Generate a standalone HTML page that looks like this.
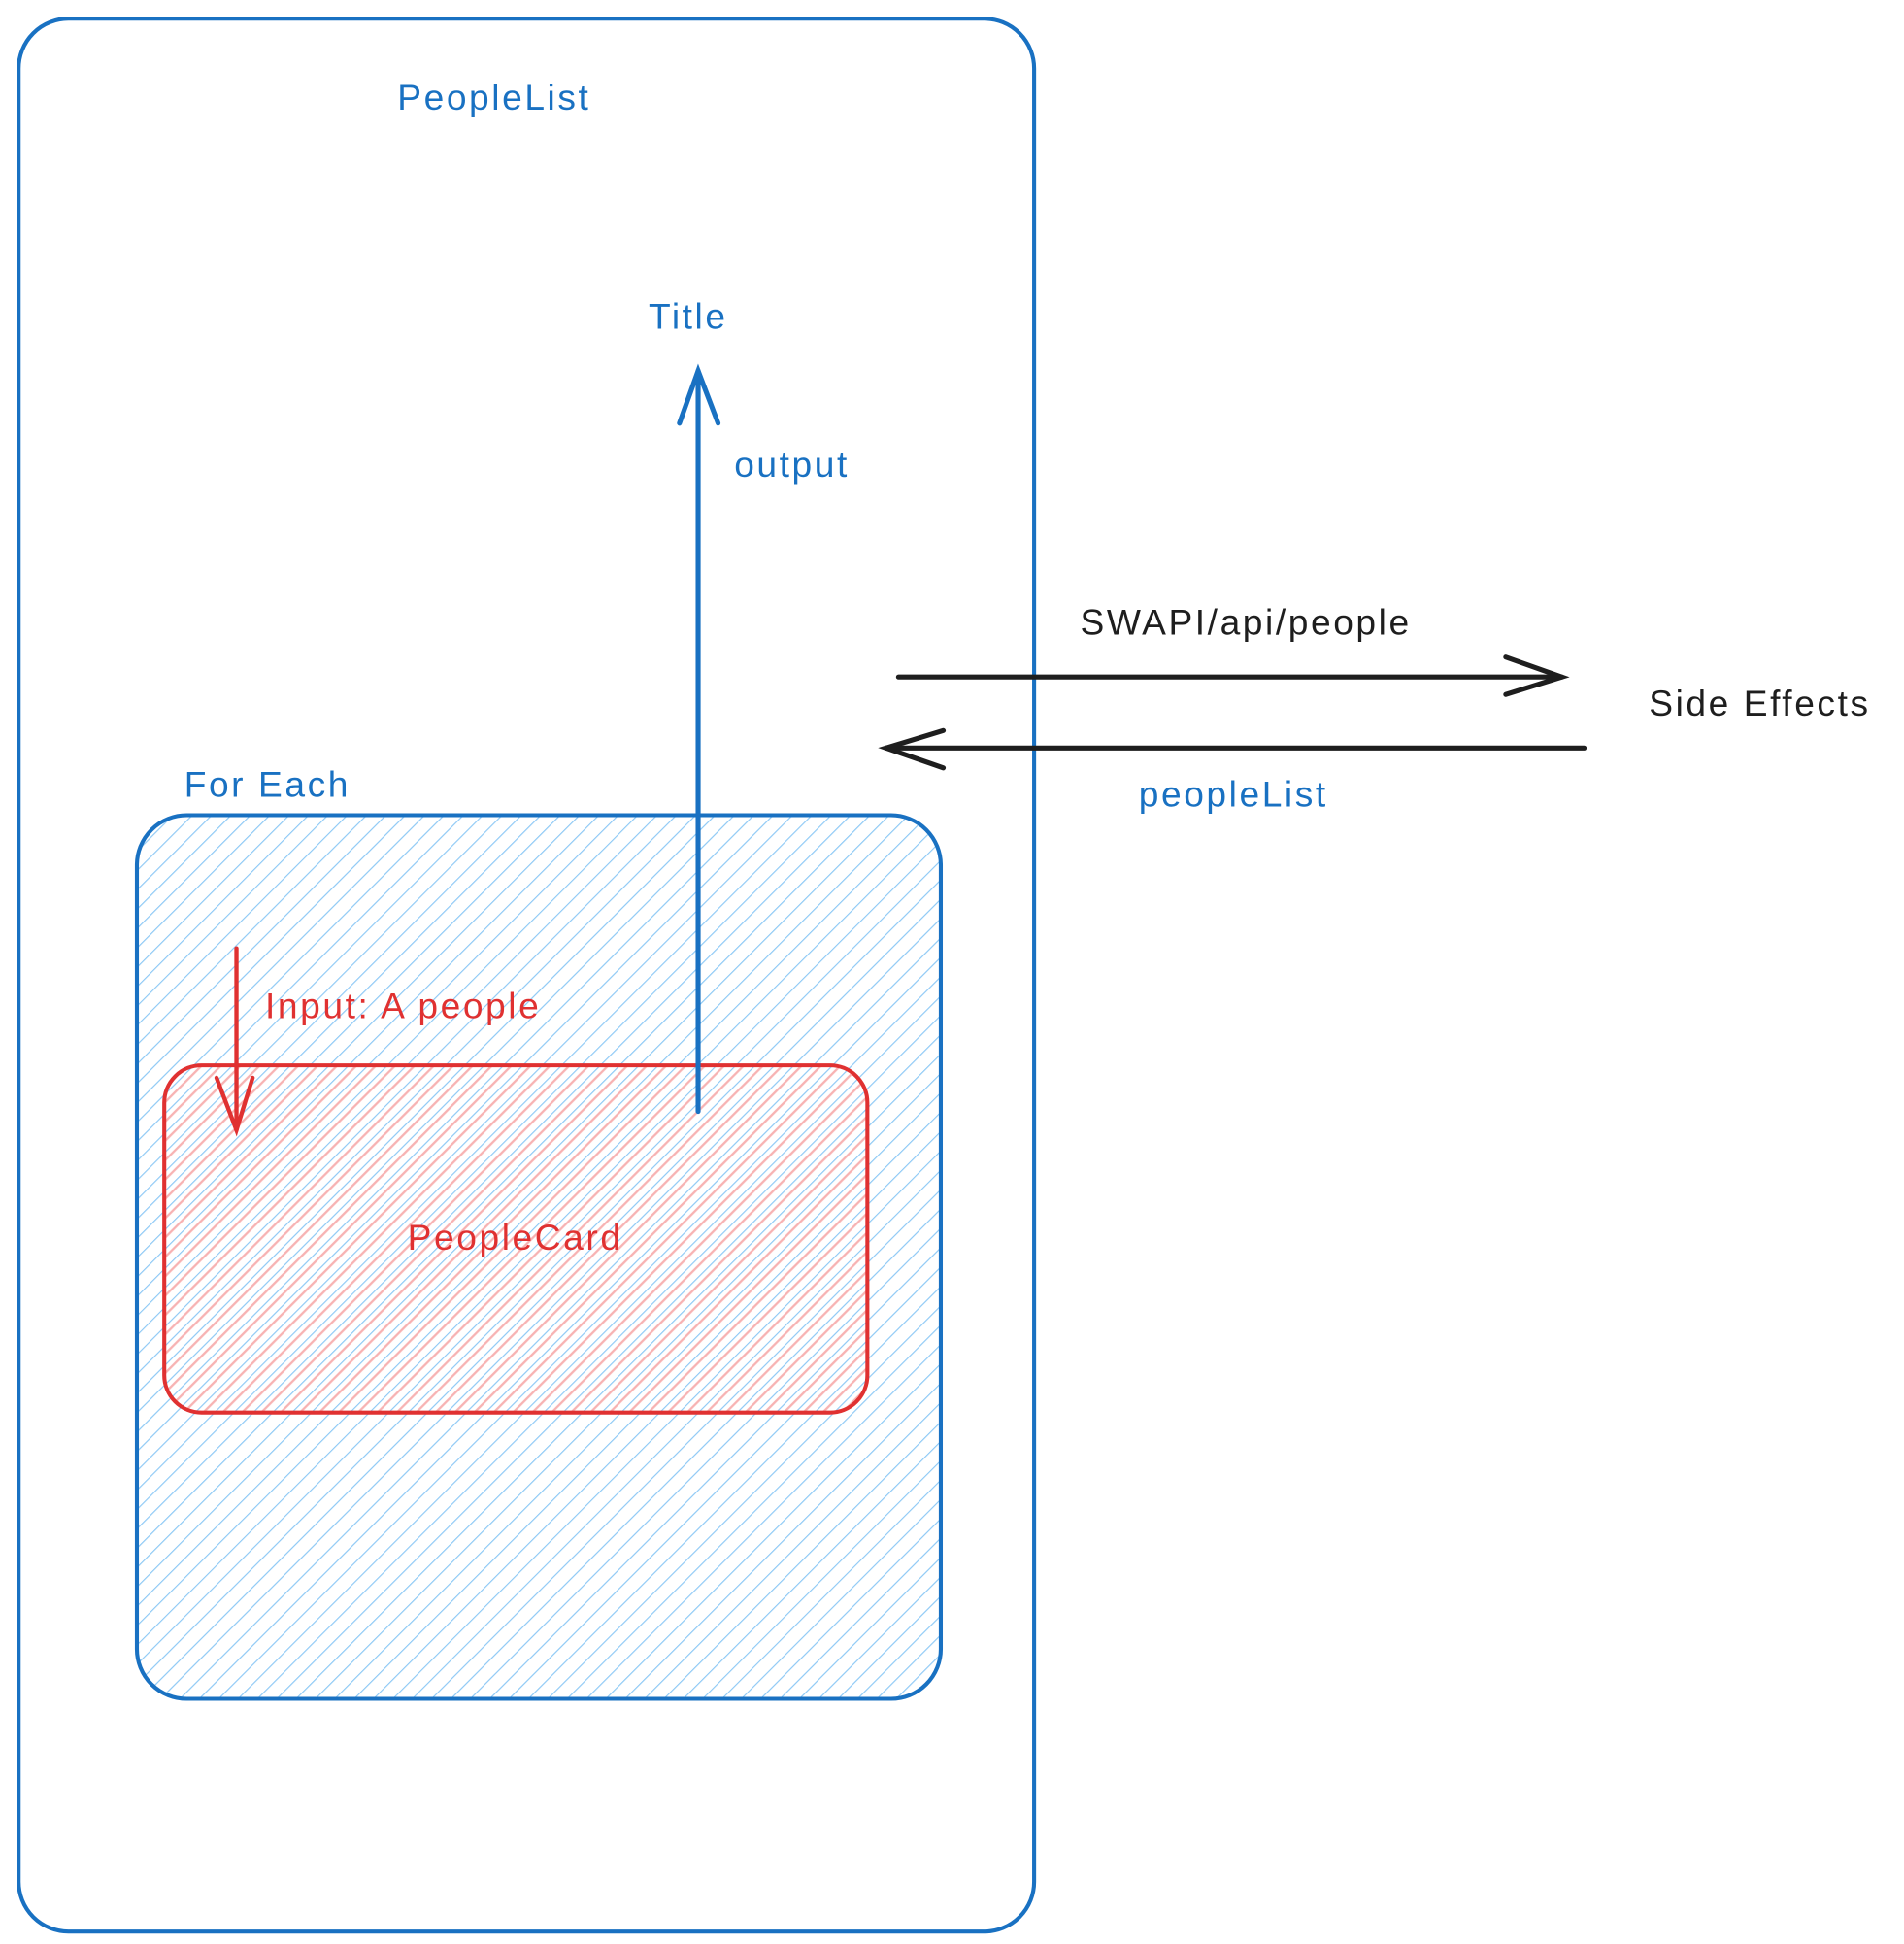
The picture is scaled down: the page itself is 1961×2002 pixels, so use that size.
<!DOCTYPE html>
<html><head><meta charset="utf-8"><style>
html,body{margin:0;padding:0;background:#fff;width:1961px;height:2002px;overflow:hidden}
text{font-family:"Liberation Sans",sans-serif;letter-spacing:2px}
</style></head><body>
<svg width="1961" height="2002" viewBox="0 0 1530 1562" xmlns="http://www.w3.org/2000/svg">
<defs>
<pattern id="hb" patternUnits="userSpaceOnUse" width="11" height="11" patternTransform="rotate(45)">
<line x1="0" y1="0" x2="0" y2="11" stroke="#8cc8f5" stroke-width="1.8"/>
</pattern>
<pattern id="hr" patternUnits="userSpaceOnUse" width="11" height="11" patternTransform="rotate(45)">
<line x1="5" y1="0" x2="5" y2="11" stroke="#f7b2b2" stroke-width="1.8"/>
</pattern>
</defs>
<rect x="15" y="15" width="816" height="1537" rx="40" fill="none" stroke="#1971c2" stroke-width="3.2"/>
<rect x="110" y="655" width="646" height="710" rx="40" fill="url(#hb)" stroke="#1971c2" stroke-width="3.2"/>
<rect x="132" y="856" width="565" height="279" rx="30" fill="url(#hr)" stroke="#e03131" stroke-width="3.2"/>
<g stroke="#1971c2" stroke-width="4" fill="none" stroke-linecap="round">
<line x1="561" y1="893" x2="561" y2="298"/>
<polyline points="546,340 561,298 577,340"/>
</g>
<g stroke="#e03131" stroke-width="3.4" fill="none" stroke-linecap="round">
<line x1="190" y1="762" x2="190" y2="908"/>
<polyline points="174,866 190,908 203,866"/>
</g>
<g stroke="#1e1e1e" stroke-width="4" fill="none" stroke-linecap="round">
<line x1="722" y1="544" x2="1255" y2="544"/>
<polyline points="1210,528 1255,544 1210,558"/>
<line x1="1273" y1="601" x2="712" y2="601"/>
<polyline points="758,587 712,601 758,617"/>
</g>
<g font-size="29" fill="#1971c2">
<text x="397" y="88" text-anchor="middle">PeopleList</text>
<text x="553" y="264" text-anchor="middle">Title</text>
<text x="590" y="383">output</text>
<text x="915" y="648">peopleList</text>
<text x="148" y="640">For Each</text>
</g>
<g font-size="29" fill="#1e1e1e">
<text x="868" y="510">SWAPI/api/people</text>
<text x="1325" y="575">Side Effects</text>
</g>
<g font-size="29" fill="#e03131">
<text x="213" y="818">Input: A people</text>
<text x="414" y="1004" text-anchor="middle">PeopleCard</text>
</g>
</svg>
</body></html>
